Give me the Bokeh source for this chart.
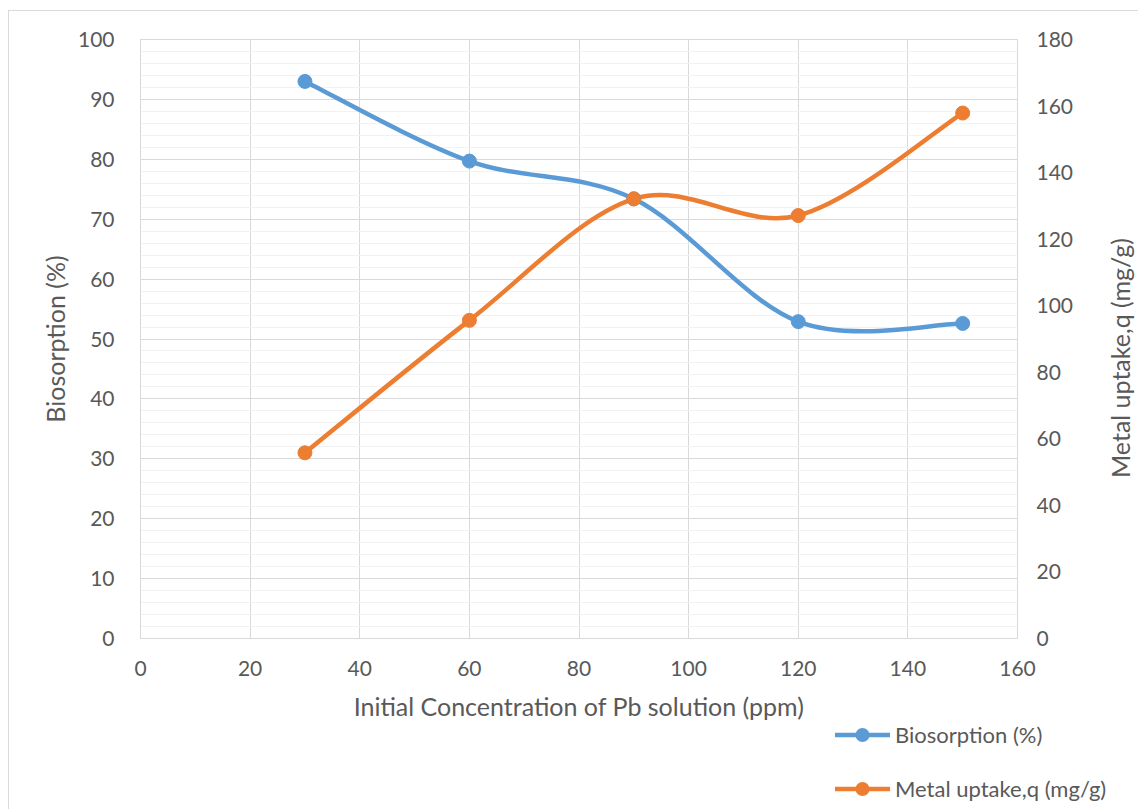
import numpy as np
from bokeh.plotting import figure
from bokeh.layouts import column, row
from bokeh.models import (Range1d, LinearAxis, SingleIntervalTicker, ColumnDataSource, Div)
from bokeh.embed import file_html
from bokeh.resources import INLINE

# ---- data ----
conc = [30, 60, 90, 120, 150]
biosorption = [93.0, 79.7, 73.4, 52.9, 52.6]
uptake = [55.8, 95.6, 132.1, 127.1, 157.9]

x_label = "Initial Concentration of Pb solution (ppm)"
y_left_label = "Biosorption (%)"
y_right_label = "Metal uptake,q (mg/g)"

BLUE = "#5B9BD5"
ORANGE = "#ED7D31"
TXT = "#595959"
GRID = "#d9d9d9"
MINOR = "#f2f2f2"
FONT = "Lato"


def smooth_segments(xs, ys, t=1.0 / 6.0):
    """Excel-style smoothed line as cubic bezier segments (control points from data)."""
    xs = np.asarray(xs, float)
    ys = np.asarray(ys, float)
    n = len(xs)
    seg = dict(x0=[], y0=[], x1=[], y1=[], cx0=[], cy0=[], cx1=[], cy1=[])
    for i in range(n - 1):
        ip = max(i - 1, 0)
        inn = min(i + 2, n - 1)
        seg["x0"].append(xs[i]); seg["y0"].append(ys[i])
        seg["x1"].append(xs[i + 1]); seg["y1"].append(ys[i + 1])
        seg["cx0"].append(xs[i] + (xs[i + 1] - xs[ip]) * t)
        seg["cy0"].append(ys[i] + (ys[i + 1] - ys[ip]) * t)
        seg["cx1"].append(xs[i + 1] - (xs[inn] - xs[i]) * t)
        seg["cy1"].append(ys[i + 1] - (ys[inn] - ys[i]) * t)
    return ColumnDataSource(seg)


# ---------------- main chart ----------------
p = figure(frame_width=877, frame_height=599, output_backend="svg", toolbar_location=None,
           x_range=Range1d(0, 160), y_range=Range1d(0, 100),
           min_border_left=140, min_border_right=85, min_border_top=39, min_border_bottom=84)
p.styles = {"background-color": "white",
            "box-shadow": "inset 8px 10px 0 0 white, inset 9px 11px 0 0 #d9d9d9"}
p.extra_y_ranges = {"right": Range1d(0, 180)}

p.background_fill_color = "white"
p.border_fill_color = None
p.outline_line_color = GRID
p.outline_line_width = 1

left_axis = p.yaxis[0]
bottom_axis = p.xaxis[0]
bottom_axis.ticker = SingleIntervalTicker(interval=20)
left_axis.ticker = SingleIntervalTicker(interval=10, num_minor_ticks=5)
right_axis = LinearAxis(y_range_name="right", ticker=SingleIntervalTicker(interval=20))
p.add_layout(right_axis, "right")

for ax in [bottom_axis, left_axis, right_axis]:
    ax.major_tick_line_color = None
    ax.minor_tick_line_color = None
    ax.major_label_text_font = FONT
    ax.major_label_text_font_size = "21px"
    ax.major_label_text_color = TXT
    ax.axis_label_text_font = FONT
    ax.axis_label_text_font_size = "25px"
    ax.axis_label_text_color = TXT
    ax.axis_label_text_font_style = "normal"

bottom_axis.major_label_standoff = 16
left_axis.major_label_standoff = 20
right_axis.major_label_standoff = 13

bottom_axis.axis_line_color = GRID
left_axis.axis_line_color = None
right_axis.axis_line_color = None
bottom_axis.axis_label = x_label
left_axis.axis_label = y_left_label
bottom_axis.axis_label_standoff = 12
left_axis.axis_label_standoff = 5

p.xgrid.grid_line_color = GRID
p.ygrid.grid_line_color = GRID
p.ygrid.minor_grid_line_color = MINOR

sb = smooth_segments(conc, biosorption)
so = smooth_segments(conc, uptake)
p.bezier(x0="x0", y0="y0", x1="x1", y1="y1", cx0="cx0", cy0="cy0", cx1="cx1", cy1="cy1",
         source=sb, line_color=BLUE, line_width=4.5)
p.bezier(x0="x0", y0="y0", x1="x1", y1="y1", cx0="cx0", cy0="cy0", cx1="cx1", cy1="cy1",
         source=so, line_color=ORANGE, line_width=4.5, y_range_name="right")
p.scatter(conc, biosorption, size=14, color=BLUE)
p.scatter(conc, uptake, size=14, color=ORANGE, y_range_name="right")

# ---------------- right axis title (reads bottom-to-top) ----------------
title_html = (
    '<div style="position:relative;width:36px;height:722px;overflow:visible;">'
    '<div style="position:absolute;left:18px;top:358px;transform:translate(-50%,-50%) rotate(-90deg);'
    f'white-space:nowrap;font-family:{FONT};font-size:25px;line-height:30px;color:{TXT};">'
    f'{y_right_label}</div></div>'
)
right_title = Div(text=title_html, width=36, height=722, margin=0,
                  styles={"background-color": "white", "overflow": "visible",
                          "box-shadow": "inset 0 10px 0 0 white, inset 0 11px 0 0 #d9d9d9"})


# ---------------- legend strip ----------------
def legend_row(color, label, top):
    return (
        f'<div style="position:absolute;left:835px;top:{top}px;height:24px;display:flex;'
        f'align-items:center;white-space:nowrap;">'
        f'<svg width="55" height="24" style="display:block">'
        f'<line x1="0" y1="12" x2="55" y2="12" stroke="{color}" stroke-width="4.5"/>'
        f'<circle cx="27.5" cy="12" r="7" fill="{color}"/></svg>'
        f'<span style="margin-left:5px;font-family:{FONT};font-size:22px;line-height:24px;'
        f'color:{TXT};">{label}</span></div>'
    )


legend_html = ('<div style="position:relative;width:1138px;height:87px;">'
               + legend_row(BLUE, y_left_label, 0)
               + legend_row(ORANGE, y_right_label, 54)
               + '</div>')
legend_div = Div(text=legend_html, width=1138, height=87, margin=0,
                 styles={"background-color": "white",
                         "box-shadow": "inset 8px 0 0 0 white, inset 9px 0 0 0 #d9d9d9"})

layout = column(row(p, right_title, spacing=0), legend_div, spacing=0)
open("out.html", "w").write(file_html(layout, INLINE))
